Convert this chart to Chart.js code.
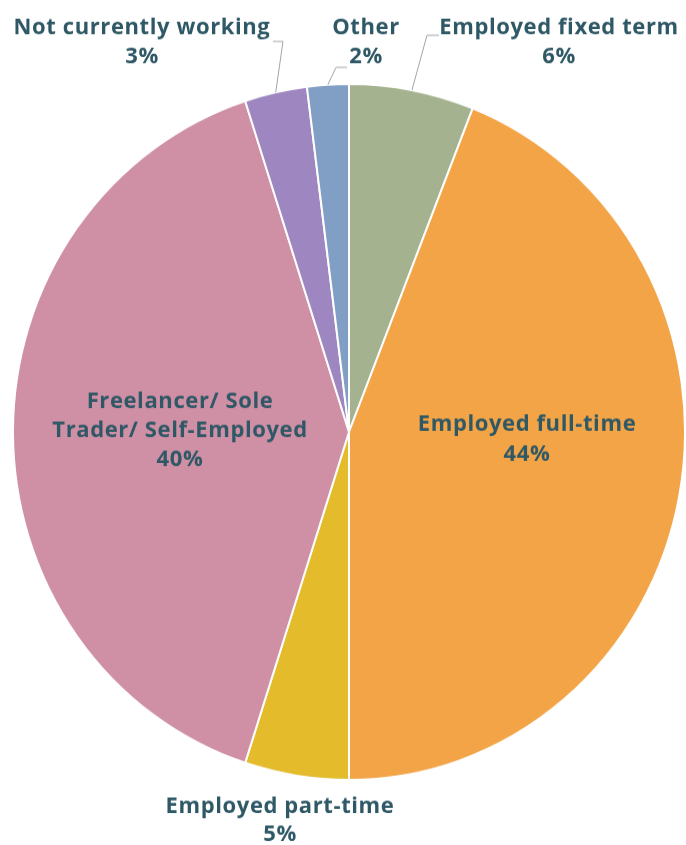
<!DOCTYPE html>
<html>
<head>
<meta charset="utf-8">
<script src="https://cdn.jsdelivr.net/npm/chart.js@4/dist/chart.umd.min.js"></script>
<style>
  html, body { margin: 0; padding: 0; background: #fff; }
  body { width: 686px; height: 845px; overflow: hidden; }
  /* the pie is drawn slightly taller than wide */
  #wrap { width: 686px; height: 816px; transform: scaleY(1.0357); transform-origin: 0 0; }
</style>
</head>
<body>
<div id="wrap"><canvas id="pie" width="686" height="816"></canvas></div>
<script>
let labels = ["Employed fixed term", "Employed full-time", "Employed part-time",
    "Freelancer/ Sole Trader/ Self-Employed", "Not currently working", "Other"]
let shares = [6, 44, 5, 40, 3, 2]
let colors = ["#a5b28f", "#f2a446", "#e3bb2b", "#cf8fa4", "#9e86c0", "#819fc5"]

// where each label sits: text lines, centre x, first line y, row gap and an optional leader
let placement = [
    { lines: ["Employed fixed term"], x: 559, y: 27, gap: 28, leader: [[427, 34], [439, 34]] },
    { lines: ["Employed full-time"], x: 527, y: 410, gap: 29 },
    { lines: ["Employed part-time"], x: 280, y: 779, gap: 27 },
    { lines: ["Freelancer/ Sole", "Trader/ Self-Employed"], x: 180, y: 388, gap: 28 },
    { lines: ["Not currently working"], x: 142, y: 27, gap: 28, leader: [[283, 40], [273, 40]] },
    { lines: ["Other"], x: 366, y: 27, gap: 28, leader: [[336, 65], [347, 65]] }
]

let textColor = "#2f5866"

let pieLabels = {
    id: "pieLabels",
    afterDatasetsDraw(chart) {
        let ctx = chart.ctx
        let arcs = chart.getDatasetMeta(0).data
        ctx.save()
        arcs.forEach((arc, i) => {
            let p = placement[i]
            if (p.leader) {
                let a = (arc.startAngle + arc.endAngle) / 2
                ctx.beginPath()
                ctx.moveTo(arc.x + Math.cos(a) * arc.outerRadius, arc.y + Math.sin(a) * arc.outerRadius)
                p.leader.forEach(pt => ctx.lineTo(pt[0], pt[1]))
                ctx.strokeStyle = "#a0a4a6"
                ctx.lineWidth = 1
                ctx.stroke()
            }
            ctx.fillStyle = textColor
            ctx.font = "bold 22px 'Open Sans'"
            ctx.letterSpacing = "0.6px"
            ctx.textAlign = "center"
            ctx.textBaseline = "middle"
            let rows = p.lines.concat([shares[i] + "%"])
            rows.forEach((t, j) => ctx.fillText(t, p.x, p.y + j * p.gap))
        })
        ctx.restore()
    }
}

new Chart(document.getElementById("pie"), {
    type: "pie",
    data: {
        labels: labels,
        datasets: [{
            data: shares,
            backgroundColor: colors,
            borderColor: "#ffffff",
            borderWidth: 2
        }]
    },
    options: {
        responsive: false,
        animation: false,
        layout: { padding: { left: 12, right: 0, top: 80, bottom: 62 } },
        plugins: {
            legend: { display: false },
            tooltip: { enabled: false }
        }
    },
    plugins: [pieLabels]
})
</script>
</body>
</html>
